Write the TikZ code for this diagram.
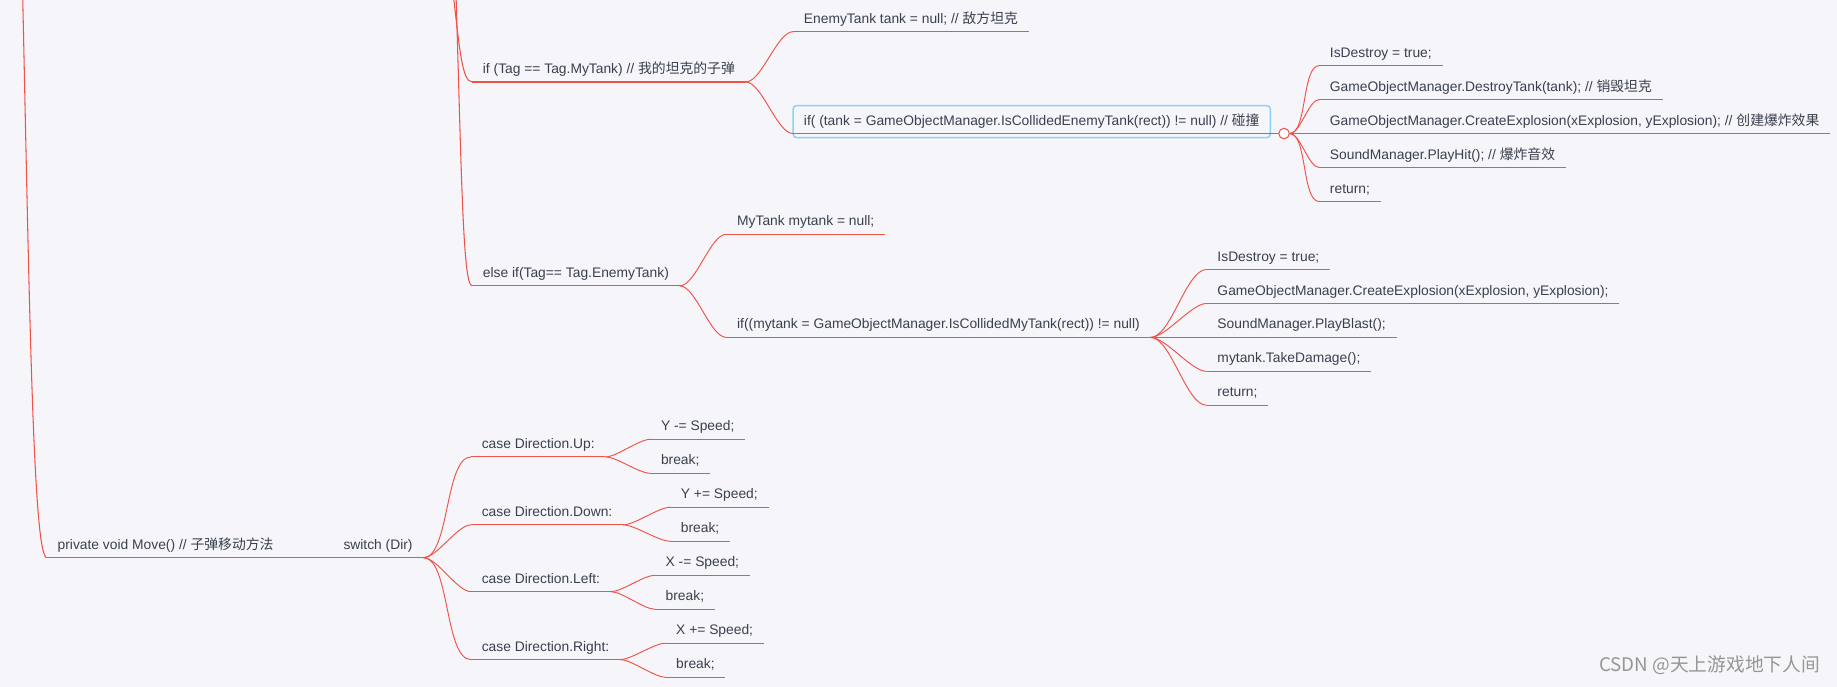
\documentclass[tikz,border=0pt]{standalone}
\usepackage{fontspec}
\usepackage{tikz}
\setmainfont{Liberation Sans}
\newfontfamily\cjk{Noto Sans CJK SC}
\usetikzlibrary{positioning,fit}
\definecolor{paper}{RGB}{245,245,250}
\definecolor{twig}{RGB}{240,82,72}
\definecolor{ink}{RGB}{58,64,78}
\definecolor{pick}{RGB}{140,210,246}
\definecolor{stampgray}{RGB}{150,150,150}

\begin{document}
\begin{tikzpicture}[x=1pt,y=-1pt,
  topic/.style={anchor=south west,inner xsep=9pt,inner ysep=4pt,text height=9pt,text depth=3pt,font=\fontsize{11.8}{14}\selectfont,text=ink},
  uline/.style={draw=twig,line width=0.9pt},
  twigline/.style={draw=twig,line width=0.8pt,out=0,in=180,looseness=0.6},
  knob/.style={circle,draw=twig,fill=white,line width=0.9pt,minimum size=9pt,inner sep=0pt},
  pickbox/.style={draw=pick,line width=1.3pt,rounded corners=3pt,inner xsep=0pt,inner ysep=3.5pt}
]
\useasboundingbox (0,0) rectangle (1568,586);
\fill[paper] (0,0) rectangle (1568,586);
\clip (0,0) rectangle (1568,586);

% parents above the visible part
\coordinate (upA) at (19,-20);
\coordinate (upB) at (386,-12);
\coordinate (upC) at (389,-12);

% my tank bullet
\node[topic] (mytank)    at (403,70)  {if (Tag == Tag.MyTank) // {\cjk 我的坦克的子弹}};
\node[topic] (enemyinit) at (677,27)  {EnemyTank tank = null; // {\cjk 敌方坦克}};
\node[topic] (ifenemy)   at (677,114) {if( (tank = GameObjectManager.IsCollidedEnemyTank(rect)) != null) // {\cjk 碰撞}};
\node[pickbox,fit=(ifenemy)] (selbox) {};
\node[knob] (knob) at (1096,114) {};
\node[topic] (hitA) at (1126,56)  {IsDestroy = true;};
\node[topic] (hitB) at (1126,85)  {GameObjectManager.DestroyTank(tank); // {\cjk 销毁坦克}};
\node[topic] (hitC) at (1126,114) {GameObjectManager.CreateExplosion(xExplosion, yExplosion); // {\cjk 创建爆炸效果}};
\node[topic] (hitD) at (1126,143) {SoundManager.PlayHit(); // {\cjk 爆炸音效}};
\node[topic] (hitE) at (1126,172) {return;};

% enemy tank bullet
\node[topic] (elseif)     at (403,244) {else if(Tag== Tag.EnemyTank)};
\node[topic] (mytankinit) at (620,200) {MyTank mytank = null;};
\node[topic] (ifmytank)   at (620,288) {if((mytank = GameObjectManager.IsCollidedMyTank(rect)) != null)};
\node[topic] (blastA) at (1030,230) {IsDestroy = true;};
\node[topic] (blastB) at (1030,259) {GameObjectManager.CreateExplosion(xExplosion, yExplosion);};
\node[topic] (blastC) at (1030,288) {SoundManager.PlayBlast();};
\node[topic] (blastD) at (1030,317) {mytank.TakeDamage();};
\node[topic] (blastE) at (1030,346) {return;};

% move
\node[topic] (move)   at (40,476)  {private void Move() // {\cjk 子弹移动方法}};
\node[topic] (switch) at (284,476) {switch (Dir)};
\node[topic] (caseU) at (402,390) {case Direction.Up:};
\node[topic] (caseD) at (402,448) {case Direction.Down:};
\node[topic] (caseL) at (402,505) {case Direction.Left:};
\node[topic] (caseR) at (402,563) {case Direction.Right:};
\node[topic] (stepU) at (555,375) {Y -= Speed;};
\node[topic] (brkU)  at (555,404) {break;};
\node[topic] (stepD) at (572,433) {Y += Speed;};
\node[topic] (brkD)  at (572,462) {break;};
\node[topic] (stepL) at (559,491) {X -= Speed;};
\node[topic] (brkL)  at (559,520) {break;};
\node[topic] (stepR) at (568,549) {X += Speed;};
\node[topic] (brkR)  at (568,578) {break;};

\foreach \n in {mytank,enemyinit,hitA,hitB,hitC,hitD,hitE,elseif,mytankinit,ifmytank,
  blastA,blastB,blastC,blastD,blastE,move,switch,caseU,caseD,caseL,caseR,
  stepU,brkU,stepD,brkD,stepL,brkL,stepR,brkR}
  \draw[uline] (\n.south west) -- (\n.south east);
\draw[uline] (ifenemy.south west) -- (knob.west);

% branches
\draw[uline] (upA) .. controls +(6,270) and +(-12,0) .. (move.south west);
\draw[uline] (upB) .. controls +(6,50) and +(-9,0) .. (mytank.south west);
\draw[uline] (upC) .. controls +(5,160) and +(-8,0) .. (elseif.south west);

\draw[twigline] (mytank.south east) to (enemyinit.south west);
\draw[twigline] (mytank.south east) to (ifenemy.south west);
\foreach \n in {hitA,hitB,hitC,hitD,hitE}
  \draw[twigline] (knob.east) to (\n.south west);

\draw[twigline] (elseif.south east) to (mytankinit.south west);
\draw[twigline] (elseif.south east) to (ifmytank.south west);
\foreach \n in {blastA,blastB,blastC,blastD,blastE}
  \draw[twigline] (ifmytank.south east) to (\n.south west);

\draw[uline] (move.south east) -- (switch.south west);
\foreach \n in {caseU,caseD,caseL,caseR}
  \draw[twigline] (switch.south east) to (\n.south west);
\draw[twigline] (caseU.south east) to (stepU.south west);
\draw[twigline] (caseU.south east) to (brkU.south west);
\draw[twigline] (caseD.south east) to (stepD.south west);
\draw[twigline] (caseD.south east) to (brkD.south west);
\draw[twigline] (caseL.south east) to (stepL.south west);
\draw[twigline] (caseL.south east) to (brkL.south west);
\draw[twigline] (caseR.south east) to (stepR.south west);
\draw[twigline] (caseR.south east) to (brkR.south west);

\node[anchor=east,text=stampgray,font=\cjk\fontsize{16}{18}\selectfont] (stamp) at (1557,568) {CSDN @天上游戏地下人间};
\end{tikzpicture}
\end{document}
